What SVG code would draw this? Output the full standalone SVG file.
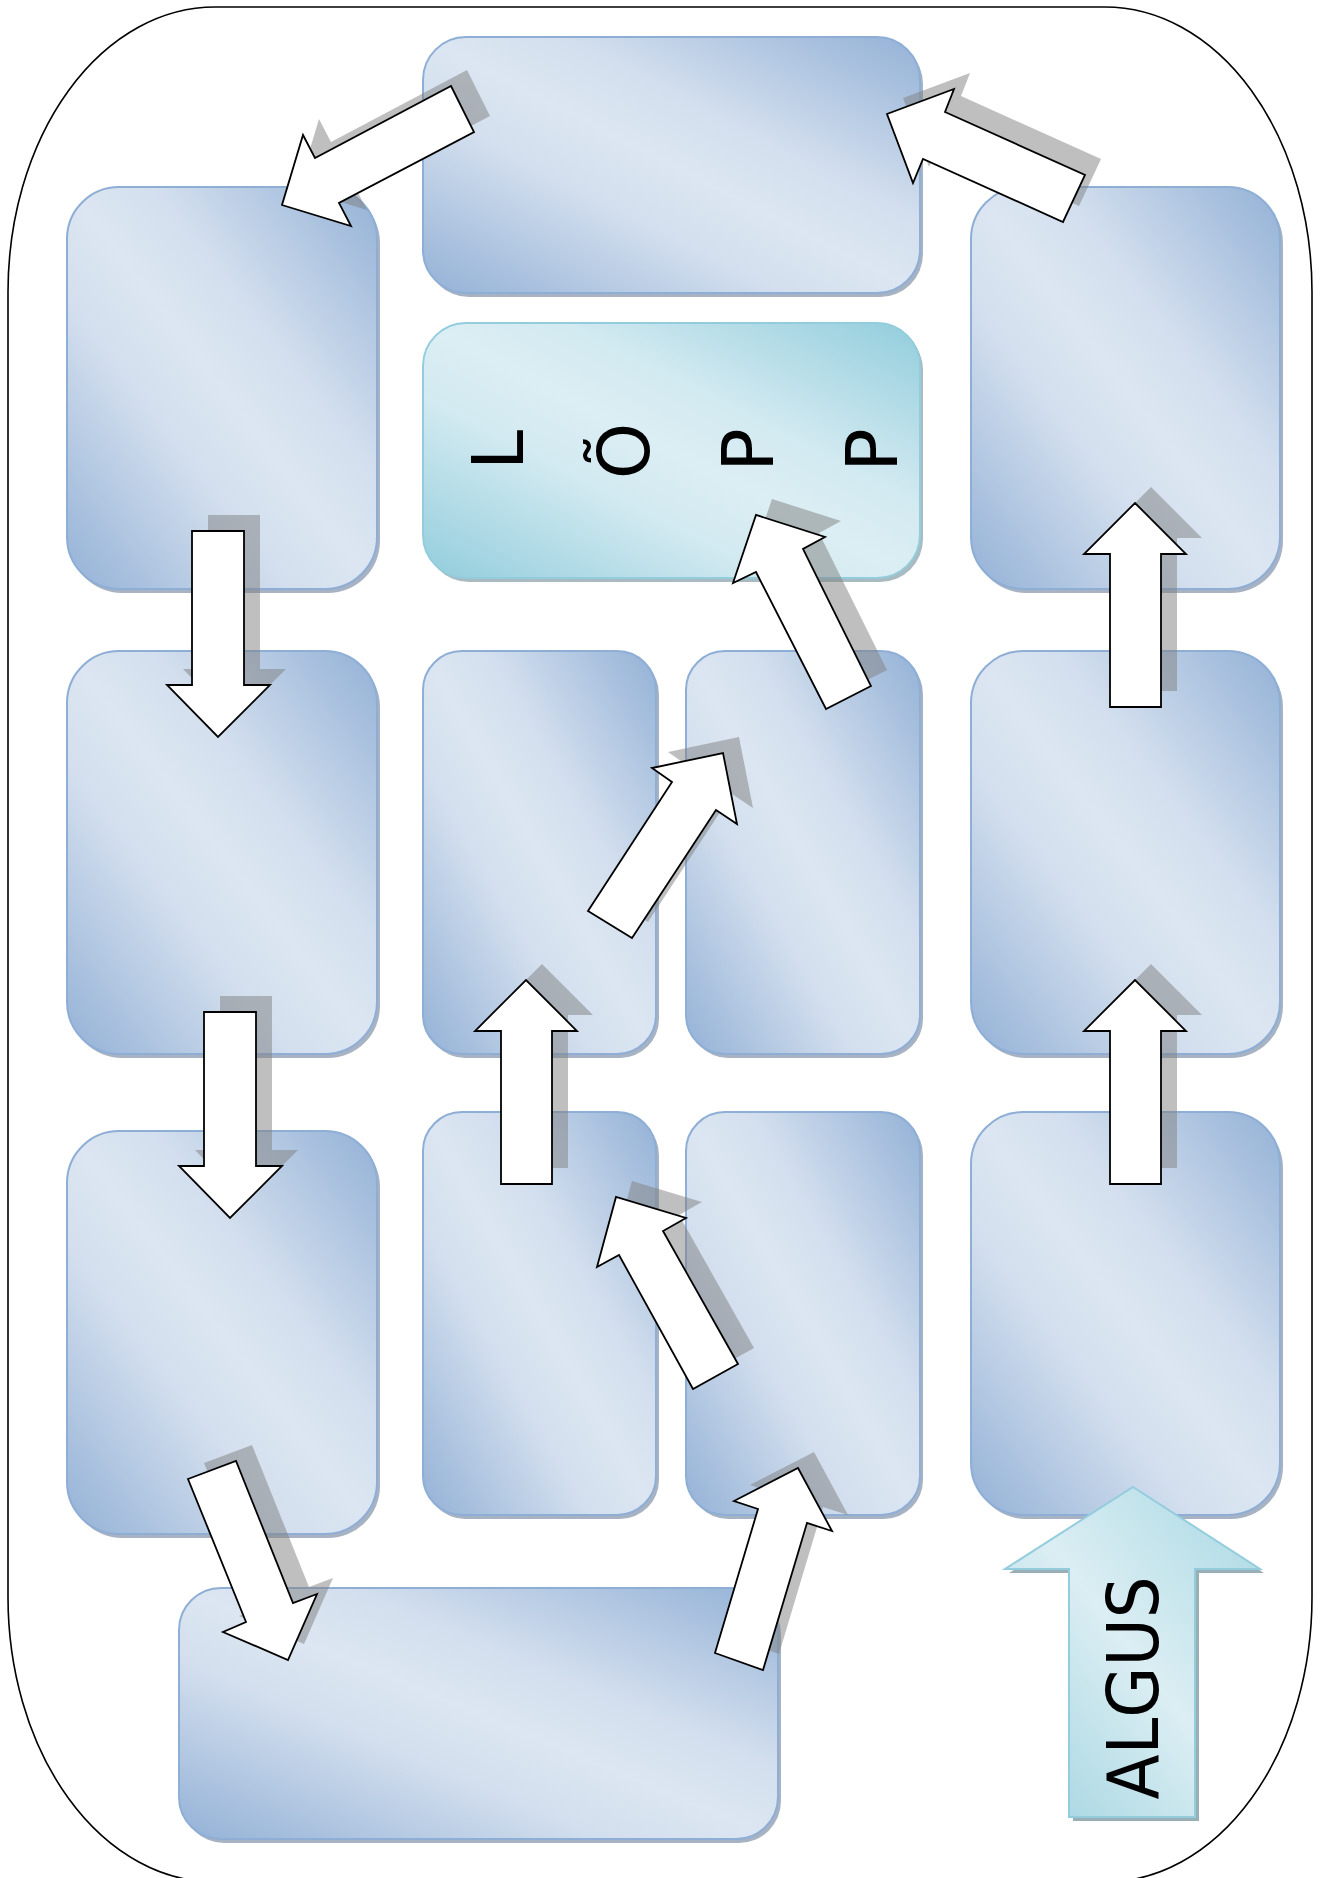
<svg xmlns="http://www.w3.org/2000/svg" xmlns:xlink="http://www.w3.org/1999/xlink" width="1320" height="1878" viewBox="0 0 1320 1878">
<defs>
<linearGradient id="gBlue" x1="0" y1="1" x2="1" y2="0">
<stop offset="0" stop-color="#93b1d6"/>
<stop offset="0.36" stop-color="#d3dfee"/>
<stop offset="0.5" stop-color="#dce6f2"/>
<stop offset="0.64" stop-color="#d3dfee"/>
<stop offset="1" stop-color="#93b1d6"/>
</linearGradient>
<linearGradient id="gTeal" x1="0" y1="1" x2="1" y2="0">
<stop offset="0" stop-color="#92cddc"/>
<stop offset="0.36" stop-color="#d3eaf1"/>
<stop offset="0.5" stop-color="#dbeef3"/>
<stop offset="0.64" stop-color="#d3eaf1"/>
<stop offset="1" stop-color="#92cddc"/>
</linearGradient>
<linearGradient id="gTealArrow" x1="0" y1="1" x2="1" y2="0">
<stop offset="0" stop-color="#9ed2df"/>
<stop offset="0.5" stop-color="#dbeef3"/>
<stop offset="1" stop-color="#a8d8e3"/>
</linearGradient>
</defs>
<style>
.outer{fill:#fff;stroke:#000;stroke-width:1.6}
.box{fill:url(#gBlue);stroke:#8eaed6;stroke-width:2}
.boxsh{fill:#6d7f99;opacity:0.6}
.lopp{fill:url(#gTeal);stroke:#93cddd;stroke-width:2}
.loppsh{fill:#6f8d96;opacity:0.6}
.arr{fill:#fff;stroke:#000;stroke-width:1.8;stroke-linejoin:miter}
.arrsh{fill:#7f7f7f;opacity:0.5;stroke:none}
.start{fill:url(#gTealArrow);stroke:#93cddd;stroke-width:2}
.startsh{fill:#6f8d96;opacity:0.7}
.lbl{font-family:"DejaVu Sans","Liberation Sans",sans-serif;fill:#000;text-anchor:middle}
</style>

<rect class="outer" x="8" y="7" width="1304" height="1875" rx="207" ry="285"/>

<g id="nodes">
<g id="box-top"><rect class="boxsh" x="426" y="41" width="497" height="256" rx="43"/><rect class="box" x="423" y="37" width="497" height="256" rx="43"/></g>
<g id="box-r1-left"><rect class="boxsh" x="70" y="191" width="310" height="402" rx="52"/><rect class="box" x="67" y="187" width="310" height="402" rx="52"/></g>
<g id="box-r1-right"><rect class="boxsh" x="974" y="191" width="309" height="402" rx="52"/><rect class="box" x="971" y="187" width="309" height="402" rx="52"/></g>
<g id="box-lopp"><rect class="loppsh" x="426" y="327" width="497" height="255" rx="43"/><rect class="lopp" x="423" y="323" width="497" height="255" rx="43"/>
<text class="lbl" font-size="72" transform="translate(523,450) rotate(-90)">L</text>
<text class="lbl" font-size="72" transform="translate(649,451) rotate(-90)">Õ</text>
<text class="lbl" font-size="72" transform="translate(773,450) rotate(-90)">P</text>
<text class="lbl" font-size="72" transform="translate(897,450) rotate(-90)">P</text>
</g>
<g id="box-r2-left"><rect class="boxsh" x="70" y="655" width="310" height="403" rx="52"/><rect class="box" x="67" y="651" width="310" height="403" rx="52"/></g>
<g id="box-r2-midleft"><rect class="boxsh" x="426" y="655" width="233" height="403" rx="39"/><rect class="box" x="423" y="651" width="233" height="403" rx="39"/></g>
<g id="box-r2-midright"><rect class="boxsh" x="689" y="655" width="234" height="403" rx="39"/><rect class="box" x="686" y="651" width="234" height="403" rx="39"/></g>
<g id="box-r2-right"><rect class="boxsh" x="974" y="655" width="309" height="403" rx="52"/><rect class="box" x="971" y="651" width="309" height="403" rx="52"/></g>
<g id="box-r3-left"><rect class="boxsh" x="70" y="1135" width="310" height="403" rx="52"/><rect class="box" x="67" y="1131" width="310" height="403" rx="52"/></g>
<g id="box-r3-midleft"><rect class="boxsh" x="426" y="1116" width="233" height="403" rx="39"/><rect class="box" x="423" y="1112" width="233" height="403" rx="39"/></g>
<g id="box-r3-midright"><rect class="boxsh" x="689" y="1116" width="234" height="403" rx="39"/><rect class="box" x="686" y="1112" width="234" height="403" rx="39"/></g>
<g id="box-r3-right"><rect class="boxsh" x="974" y="1116" width="309" height="403" rx="52"/><rect class="box" x="971" y="1112" width="309" height="403" rx="52"/></g>
<g id="box-bottom"><rect class="boxsh" x="182" y="1592" width="599" height="251" rx="42"/><rect class="box" x="179" y="1588" width="599" height="251" rx="42"/></g>
<g id="start-algus">
<polygon class="startsh" points="1137,1491 1264,1573 1199,1573 1199,1821 1073,1821 1073,1573 1009,1573"/>
<polygon class="start" points="1133,1487 1260,1569 1195,1569 1195,1817 1069,1817 1069,1569 1005,1569"/>
<text class="lbl" font-size="72" textLength="223" lengthAdjust="spacingAndGlyphs" transform="translate(1158,1688) rotate(-90)">ALGUS</text>
</g>
</g>

<g id="connectors">
<g id="a1"><polygon class="arrsh" transform="translate(16,-16)" points="451,86 474,132 339,203 351,226 282,205 303,135 315,158"/><polygon class="arr" points="451,86 474,132 339,203 351,226 282,205 303,135 315,158"/></g>
<g id="a2"><polygon class="arrsh" transform="translate(16,-16)" points="945,112 1085,175 1063,222 923,159 913,183 887,114 954,89"/><polygon class="arr" points="945,112 1085,175 1063,222 923,159 913,183 887,114 954,89"/></g>
<g id="a3"><polygon class="arrsh" transform="translate(16,-16)" points="192,531 244,531 244,685 270,685 218,737 167,685 192,685"/><polygon class="arr" points="192,531 244,531 244,685 270,685 218,737 167,685 192,685"/></g>
<g id="a4"><polygon class="arrsh" transform="translate(16,-16)" points="204,1012 256,1012 256,1166 282,1166 230,1218 179,1166 204,1166"/><polygon class="arr" points="204,1012 256,1012 256,1166 282,1166 230,1218 179,1166 204,1166"/></g>
<g id="a5"><polygon class="arrsh" transform="translate(16,-16)" points="188,1479 236,1461 293,1603 317,1594 288,1660 223,1632 246,1622"/><polygon class="arr" points="188,1479 236,1461 293,1603 317,1594 288,1660 223,1632 246,1622"/></g>
<g id="a6"><polygon class="arrsh" transform="translate(16,-16)" points="715,1653 763,1670 807,1523 832,1531 798,1468 734,1501 758,1509"/><polygon class="arr" points="715,1653 763,1670 807,1523 832,1531 798,1468 734,1501 758,1509"/></g>
<g id="a7"><polygon class="arrsh" transform="translate(16,-16)" points="738,1364 693,1389 619,1255 597,1267 616,1197 686,1218 663,1231"/><polygon class="arr" points="738,1364 693,1389 619,1255 597,1267 616,1197 686,1218 663,1231"/></g>
<g id="a8"><polygon class="arrsh" transform="translate(16,-16)" points="501,1184 501,1031 475,1031 526,980 577,1031 552,1031 552,1184"/><polygon class="arr" points="501,1184 501,1031 475,1031 526,980 577,1031 552,1031 552,1184"/></g>
<g id="a9"><polygon class="arrsh" transform="translate(16,-16)" points="588,911 632,938 716,810 737,824 723,753 652,768 672,782"/><polygon class="arr" points="588,911 632,938 716,810 737,824 723,753 652,768 672,782"/></g>
<g id="a10"><polygon class="arrsh" transform="translate(16,-16)" points="871,686 826,709 756,572 733,583 756,515 825,537 803,549"/><polygon class="arr" points="871,686 826,709 756,572 733,583 756,515 825,537 803,549"/></g>
<g id="a11"><polygon class="arrsh" transform="translate(16,-16)" points="1110,1184 1110,1031 1084,1031 1135,980 1186,1031 1161,1031 1161,1184"/><polygon class="arr" points="1110,1184 1110,1031 1084,1031 1135,980 1186,1031 1161,1031 1161,1184"/></g>
<g id="a12"><polygon class="arrsh" transform="translate(16,-16)" points="1110,707 1110,554 1084,554 1135,503 1186,554 1161,554 1161,707"/><polygon class="arr" points="1110,707 1110,554 1084,554 1135,503 1186,554 1161,554 1161,707"/></g>
</g>
</svg>
